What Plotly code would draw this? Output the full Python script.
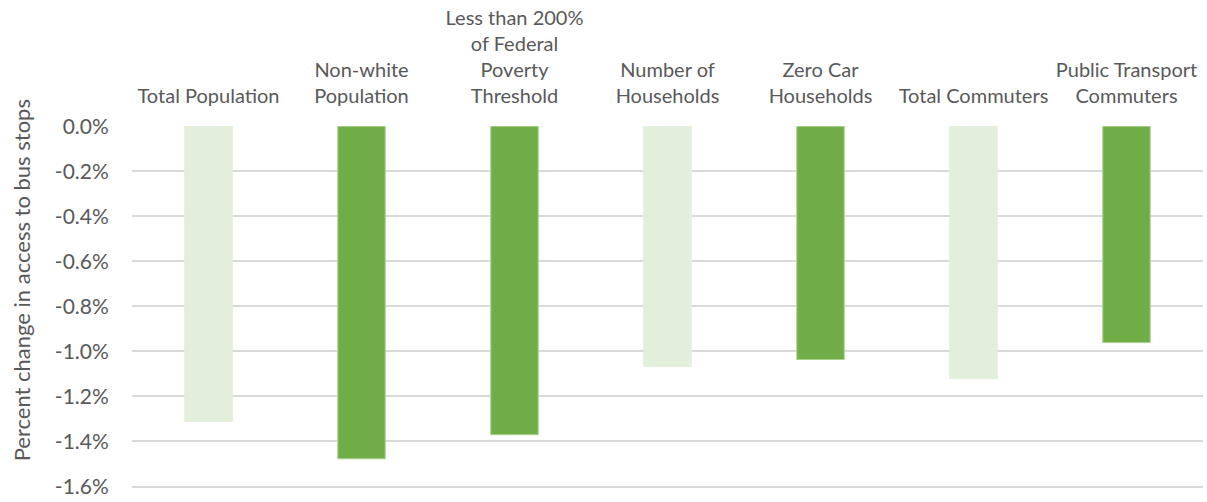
import plotly.graph_objects as go

# Categories (multi-line labels as shown above the plot)
categories = [
    "Total Population",
    "Non-white<br>Population",
    "Less than 200%<br>of Federal<br>Poverty<br>Threshold",
    "Number of<br>Households",
    "Zero Car<br>Households",
    "Total Commuters",
    "Public Transport<br>Commuters",
]
# Percent change in access to bus stops (as fractions)
values = [-0.01311, -0.01477, -0.01370, -0.01067, -0.01036, -0.01121, -0.00961]
# Totals in light green, subgroups in dark green
bar_colors = ["#E2EFDA", "#70AD47", "#70AD47", "#E2EFDA", "#70AD47", "#E2EFDA", "#70AD47"]
edge_colors = ["#E2EFDA", "#A9D18E", "#A9D18E", "#E2EFDA", "#A9D18E", "#E2EFDA", "#A9D18E"]

# Y-axis ticks
y_tickvals = [0, -0.002, -0.004, -0.006, -0.008, -0.010, -0.012, -0.014, -0.016]
y_ticktext = ["0.0%", "-0.2%", "-0.4%", "-0.6%", "-0.8%", "-1.0%", "-1.2%", "-1.4%", "-1.6%"]
y_title = "Percent change in access to bus stops"

font_family = "Lato, 'Open Sans', sans-serif"
text_color = "#595959"

W, H = 1207, 502
M_L, M_R, M_T, M_B = 132, 4, 126, 7

fig = go.Figure(
    go.Bar(
        x=categories,
        y=values,
        marker=dict(color=bar_colors, line=dict(color=edge_colors, width=1)),
        width=0.31,
    )
)

plot_h = H - M_T - M_B
fig.update_layout(
    width=W,
    height=H,
    margin=dict(l=M_L, r=M_R, t=M_T, b=M_B),
    paper_bgcolor="white",
    plot_bgcolor="white",
    showlegend=False,
    font=dict(family=font_family, color=text_color, size=20),
    annotations=[
        dict(
            text=y_title,
            textangle=-90,
            xref="paper", yref="paper",
            x=-(M_L - 21) / (W - M_L - M_R),
            y=(H - M_B - 282) / plot_h,
            xanchor="center", yanchor="middle",
            showarrow=False,
            font=dict(size=22, color=text_color),
        )
    ],
)

fig.update_xaxes(
    side="top",
    showgrid=False,
    showline=False,
    zeroline=False,
    ticks="outside",
    ticklen=14,
    tickcolor="rgba(0,0,0,0)",
    tickfont=dict(size=20, color=text_color),
    range=[-0.5, 6.5],
)

fig.update_yaxes(
    range=[-0.0162, 0.00001],
    tickvals=y_tickvals,
    ticktext=y_ticktext,
    showgrid=True,
    gridcolor="#D9D9D9",
    gridwidth=1.5,
    zeroline=False,
    showline=False,
    ticks="outside",
    ticklen=18,
    tickcolor="rgba(0,0,0,0)",
    tickfont=dict(size=21, color=text_color),
)

fig.write_html("out.html")
